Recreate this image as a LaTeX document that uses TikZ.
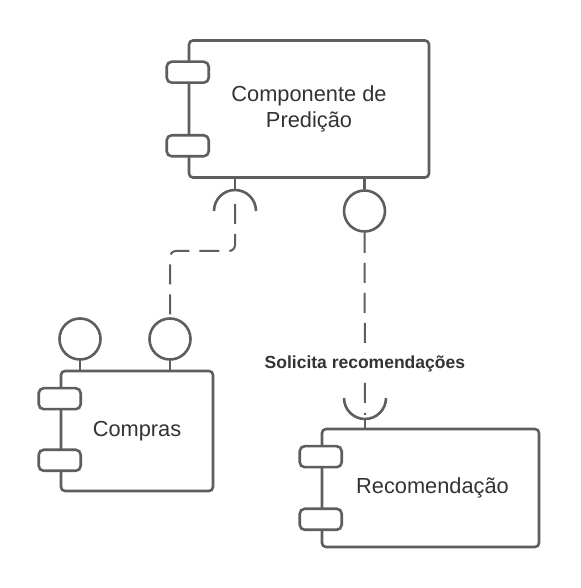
\documentclass[tikz,border=0pt]{standalone}
\usepackage{fontspec}
\setmainfont{Liberation Sans}
\usepackage{xcolor}
\usepackage{tikz}
\usetikzlibrary{calc}
\usetikzlibrary{positioning}
\definecolor{linegray}{HTML}{5E5E5E}
\definecolor{textgray}{HTML}{333333}
\tikzstyle{compbox} = [draw=linegray, line width=2.6pt, fill=white,
rectangle, rounded corners=4pt, inner sep=0pt, text=textgray,
font=\fontsize{21.8}{26}\selectfont, align=center]
\tikzstyle{portbox} = [draw=linegray, line width=2.6pt, fill=white,
rectangle, rounded corners=5pt, minimum width=42pt, minimum height=21pt]
\tikzstyle{lolly} = [draw=linegray, line width=2.6pt, fill=white,
circle, minimum size=41pt, inner sep=0pt]
\tikzstyle{stem} = [draw=linegray, line width=2.6pt]
\tikzstyle{wire} = [draw=linegray, line width=2pt, dash pattern=on 20pt off 10pt]
\tikzstyle{wirelabel} = [fill=white, text=textgray, inner sep=3pt,
font=\fontsize{17.5}{21}\selectfont\bfseries]

\begin{document}
\begin{tikzpicture}[x=1pt,y=1pt]
        \useasboundingbox (0,0) rectangle (580,588);
        % components
        \node [compbox, minimum width=240pt, minimum height=137pt] (pred) at (309,479)
            {Componente de\\Predição};
        \node [compbox, minimum width=152pt, minimum height=120pt] (compras) at (137,157)
            {Compras};
        \node [compbox, minimum width=217pt, minimum height=118pt] (recom) at (430.5,100)
            {\hspace*{4pt}Recomendação};
        % ports
        \node [portbox] (predPortA) at ([yshift=-33pt]pred.north west) {};
        \node [portbox] (predPortB) at ([yshift=33pt]pred.south west) {};
        \node [portbox] (comprasPortA) at ([yshift=-29pt]compras.north west) {};
        \node [portbox] (comprasPortB) at ([yshift=32pt]compras.south west) {};
        \node [portbox] (recomPortA) at ([yshift=-29pt]recom.north west) {};
        \node [portbox] (recomPortB) at ([yshift=29pt]recom.south west) {};
        % provided interfaces
        \node [lolly] (predOut) at (364.5,377) {};
        \node [lolly] (comprasOutA) at (80,249) {};
        \node [lolly] (comprasOutB) at (170,249) {};
        \draw [stem] (predOut.north) -- (predOut.north |- pred.south);
        \draw [stem] (comprasOutA.south) -- (comprasOutA.south |- compras.north);
        \draw [stem] (comprasOutB.south) -- (comprasOutB.south |- compras.north);
        % required interfaces
        \coordinate (predIn) at (235,377);
        \coordinate (recomIn) at (365,190);
        \draw [stem] (predIn) ++(-21pt,0) arc [start angle=180, end angle=0, radius=21pt];
        \draw [stem] ($(predIn)+(0,21pt)$) -- (predIn |- pred.south);
        \draw [stem] (recomIn) ++(-21pt,0) arc [start angle=180, end angle=360, radius=21pt];
        \draw [stem] ($(recomIn)+(0,-21pt)$) -- (recomIn |- recom.north);
        % dependencies
        \draw [wire, rounded corners=6pt] ($(predIn)+(0,7pt)$) -- ++(0,-47pt)
            -| (comprasOutB.north);
        \draw [wire] (predOut.south) -- ($(recomIn)+(0,-17pt)$)
            node [wirelabel, pos=0.72] (reqLabel) {Solicita recomendações};
    \end{tikzpicture}
\end{document}
